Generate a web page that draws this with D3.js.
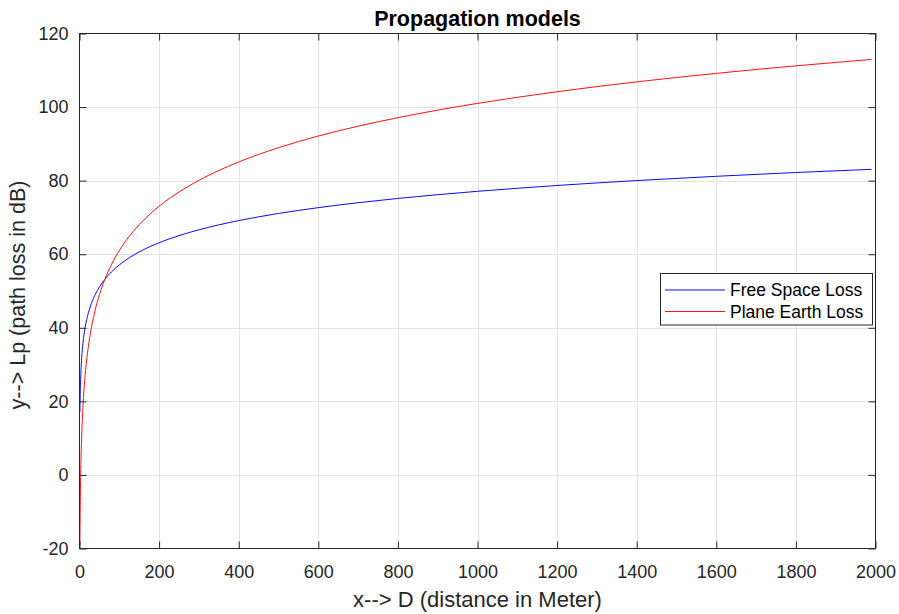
<!DOCTYPE html>
<html>
<head>
<meta charset="utf-8">
<script src="https://cdn.jsdelivr.net/npm/d3@7"></script>
<style>
  html, body { margin: 0; padding: 0; background: #fff; }
  svg { display: block; }
  text { font-family: "Liberation Sans", Arial, Helvetica, sans-serif; fill: #262626; }
</style>
</head>
<body>
<svg id="chart" width="899" height="614"></svg>
<script>
// Distance samples (m)
const distance = [1, 2, 3, 4, 5, 7, 10, 13, 16, 20, 25, 30, 40, 50, 63, 80, 100, 125, 150, 200, 250, 300,
                  400, 500, 600, 700, 800, 900, 1000, 1200, 1400, 1600, 1800, 1990];
// Free space path loss (dB)
const freeSpaceLoss = [17.10, 23.12, 26.64, 29.14, 31.08, 34.00, 37.10, 39.38, 41.18, 43.12, 45.06, 46.64,
                       49.14, 51.08, 53.09, 55.16, 57.10, 59.04, 60.62, 63.12, 65.06, 66.64, 69.14, 71.08,
                       72.66, 74.00, 75.16, 76.18, 77.10, 78.68, 80.02, 81.18, 82.21, 83.08];
// Plane earth path loss (dB)
const planeEarthLoss = [-19.00, -6.96, 0.08, 5.08, 8.96, 14.80, 21.00, 25.56, 29.16, 33.04, 36.92, 40.08,
                        45.08, 48.96, 52.97, 57.12, 61.00, 64.88, 68.04, 73.04, 76.92, 80.08, 85.08, 88.96,
                        92.13, 94.80, 97.12, 99.17, 101.00, 104.17, 106.85, 109.16, 111.21, 112.95];
const seriesNames = ["Free Space Loss", "Plane Earth Loss"];
const xTicks = [0, 200, 400, 600, 800, 1000, 1200, 1400, 1600, 1800, 2000];
const yTicks = [-20, 0, 20, 40, 60, 80, 100, 120];

const svg = d3.select("#chart");
const plotLeft = 79.5, plotRight = 875.5, plotTop = 33.5, plotBottom = 548.5;
const axisColor = "#262626";
const gridColor = "#e3e3e3";
const tickLen = 7;

const x = d3.scaleLinear().domain([0, 2000]).range([plotLeft, plotRight]);
const y = d3.scaleLinear().domain([-20, 120]).range([plotBottom, plotTop]);

svg.append("rect").attr("width", 899).attr("height", 614).attr("fill", "#fff");

// grid
const grid = svg.append("g");
grid.selectAll(".gx").data(xTicks.slice(1, -1)).join("line")
  .attr("x1", d => Math.round(x(d)) + 0.5).attr("x2", d => Math.round(x(d)) + 0.5)
  .attr("y1", plotTop).attr("y2", plotBottom).attr("stroke", gridColor).attr("stroke-width", 1);
grid.selectAll(".gy").data(yTicks.slice(1, -1)).join("line")
  .attr("y1", d => Math.round(y(d)) + 0.5).attr("y2", d => Math.round(y(d)) + 0.5)
  .attr("x1", plotLeft).attr("x2", plotRight).attr("stroke", gridColor).attr("stroke-width", 1);

// curves
const plot = svg.append("g");
const line = vals => d3.line()
  .x((d, i) => x(distance[i]))
  .y((d) => y(d))
  .curve(d3.curveMonotoneX)(vals);
plot.append("path").attr("d", line(freeSpaceLoss)).attr("fill", "none")
  .attr("stroke", "#0a0aff").attr("stroke-width", 1);
plot.append("path").attr("d", line(planeEarthLoss)).attr("fill", "none")
  .attr("stroke", "#ff1010").attr("stroke-width", 1);

// axes (box with inward ticks on all sides)
const axes = svg.append("g").attr("stroke", axisColor).attr("stroke-width", 1);
axes.append("rect").attr("x", plotLeft).attr("y", plotTop)
  .attr("width", plotRight - plotLeft).attr("height", plotBottom - plotTop)
  .attr("fill", "none");
const plain = d => String(d).replace("\u2212", "-");
const xBottom = d3.axisBottom(x).tickValues(xTicks).tickFormat(plain)
  .tickSizeInner(-tickLen).tickSizeOuter(0).tickPadding(17);
const yLeft = d3.axisLeft(y).tickValues(yTicks).tickFormat(plain)
  .tickSizeInner(-tickLen).tickSizeOuter(0).tickPadding(11);
const xTop = d3.axisTop(x).tickValues(xTicks).tickSizeInner(-tickLen).tickSizeOuter(0).tickFormat("");
const yRight = d3.axisRight(y).tickValues(yTicks).tickSizeInner(-tickLen).tickSizeOuter(0).tickFormat("");

function styleAxis(g) {
  g.select(".domain").remove();
  g.selectAll(".tick line").attr("stroke", axisColor);
  g.selectAll(".tick text").attr("fill", axisColor).style("font-size", "18px")
    .style("font-family", '"Liberation Sans", Arial, sans-serif');
}
svg.append("g").attr("transform", `translate(0,${plotBottom})`).call(xBottom).call(styleAxis);
svg.append("g").attr("transform", `translate(${plotLeft},0)`).call(yLeft).call(styleAxis);
svg.append("g").attr("transform", `translate(0,${plotTop})`).call(xTop).call(styleAxis);
svg.append("g").attr("transform", `translate(${plotRight},0)`).call(yRight).call(styleAxis);

// titles
svg.append("text").attr("x", (plotLeft + plotRight) / 2).attr("y", 26).attr("text-anchor", "middle")
  .style("font-size", "21.5px").style("font-weight", "bold").style("fill", "#000")
  .text("Propagation models");
svg.append("text").attr("x", (plotLeft + plotRight) / 2).attr("y", 607).attr("text-anchor", "middle")
  .style("font-size", "22px").text("x--> D (distance in Meter)");
svg.append("text").attr("transform", `translate(24.5,${(plotTop + plotBottom) / 2 + 4}) rotate(-90)`)
  .attr("text-anchor", "middle").style("font-size", "21.5px")
  .text("y--> Lp (path loss in dB)");

// legend
const lg = svg.append("g");
lg.append("rect").attr("x", 660.5).attr("y", 273.5).attr("width", 212).attr("height", 51.5)
  .attr("fill", "#fff").attr("stroke", axisColor).attr("stroke-width", 1);
const colors = ["#0a0aff", "#ff1010"];
seriesNames.forEach((name, i) => {
  const yy = 290 + i * 21.5;
  lg.append("line").attr("x1", 665).attr("x2", 725).attr("y1", yy).attr("y2", yy)
    .attr("stroke", colors[i]).attr("stroke-width", 1);
  lg.append("text").attr("x", 730).attr("y", yy).attr("dy", "0.35em")
    .style("font-size", "17.5px").style("fill", "#000").text(name);
});
</script>
</body>
</html>
